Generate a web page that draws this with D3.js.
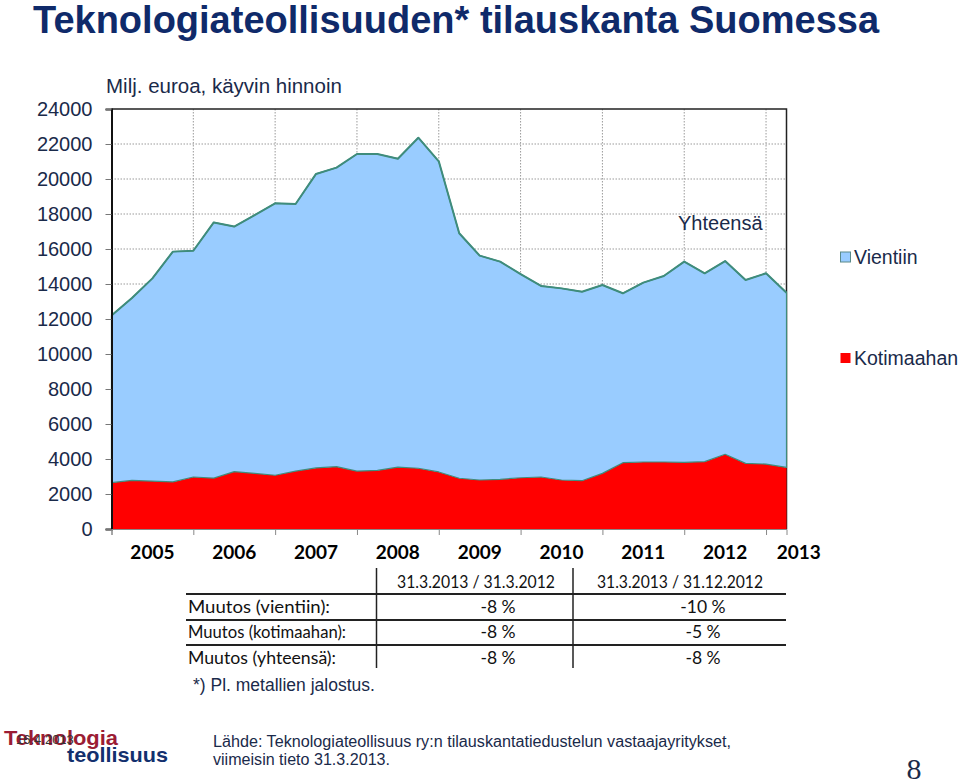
<!DOCTYPE html>
<html>
<head>
<meta charset="utf-8">
<script src="https://cdn.jsdelivr.net/npm/d3@7"></script>
<style>
  html, body { margin: 0; padding: 0; background: #fff; }
  svg { display: block; }
</style>
</head>
<body>
<svg id="chart" width="960" height="783"></svg>
<script>
// ---- data ----
const quarters = ["12/2004",
  "3/2005","6/2005","9/2005","12/2005",
  "3/2006","6/2006","9/2006","12/2006",
  "3/2007","6/2007","9/2007","12/2007",
  "3/2008","6/2008","9/2008","12/2008",
  "3/2009","6/2009","9/2009","12/2009",
  "3/2010","6/2010","9/2010","12/2010",
  "3/2011","6/2011","9/2011","12/2011",
  "3/2012","6/2012","9/2012","12/2012",
  "3/2013"];
const kotimaahan = [2650,2780,2740,2690,2970,2910,3280,3180,3070,3310,3490,3560,3310,3350,3540,3470,3260,
  2900,2800,2840,2930,2970,2800,2760,3180,3790,3830,3830,3810,3850,4270,3750,3710,3520];
const vientiin = [9550,10420,11580,13160,12930,14610,14000,14760,15540,15260,16800,17090,18120,18080,17620,18890,17750,
  14000,12820,12440,11640,10920,10950,10800,10760,9680,10250,10630,11470,10760,11040,10480,10900,9980];
const yearLabels = ["2005","2006","2007","2008","2009","2010","2011","2012","2013"];
const yTicks = [0,2000,4000,6000,8000,10000,12000,14000,16000,18000,20000,22000,24000];
const seriesNames = ["Vientiin","Kotimaahan"];
const tableHeader = ["31.3.2013 / 31.3.2012","31.3.2013 / 31.12.2012"];
const tableRows = ["Muutos (vientiin):","Muutos (kotimaahan):","Muutos (yhteensä):"];
const tableCol1 = ["-8 %","-8 %","-8 %"];
const tableCol2 = ["-10 %","-5 %","-8 %"];

// ---- layout ----
const svg = d3.select("#chart");
const L = 111.5, R = 786.5, T = 109, B = 529;
const navy = "#1a2a4a";
const blueFill = "#99ccff", blueLine = "#3f8c7c", redFill = "#ff0000";

const x = d3.scalePoint().domain(quarters).range([L, R]);
const y = d3.scaleLinear().domain([0, 24000]).range([B, T]);
const step = x.step();

const rows = quarters.map((q, i) => ({q, Kotimaahan: kotimaahan[i], Vientiin: vientiin[i]}));
const stack = d3.stack().keys(["Kotimaahan","Vientiin"]);
const layers = stack(rows);

// title
svg.append("text").attr("x", 33).attr("y", 33)
  .attr("font-family", "Liberation Sans, Arial, sans-serif").attr("font-weight", "bold")
  .attr("font-size", 38).attr("fill", "#0f2a6a")
  .text("Teknologiateollisuuden* tilauskanta Suomessa");

// unit label
svg.append("text").attr("x", 106).attr("y", 93)
  .attr("font-family", "Liberation Sans, Arial, sans-serif").attr("font-size", 20.5).attr("fill", navy)
  .text("Milj. euroa, käyvin hinnoin");

// gridlines
const grid = svg.append("g");
grid.selectAll("line.h").data(yTicks.filter(v => v > 0 && v < 24000)).join("line")
  .attr("x1", L).attr("x2", R).attr("y1", d => y(d)).attr("y2", d => y(d))
  .attr("stroke", "#9a9a9a").attr("stroke-width", 1).attr("stroke-dasharray", "1.5,1.5");
const yearTicks = quarters.filter((q, i) => i % 4 === 0);
grid.selectAll("line.v").data(yearTicks.slice(1)).join("line")
  .attr("x1", d => x(d)).attr("x2", d => x(d)).attr("y1", T).attr("y2", B)
  .attr("stroke", "#9a9a9a").attr("stroke-width", 1).attr("stroke-dasharray", "1.5,1.5");

// frame top/right
svg.append("path").attr("d", `M${L},${T}H${R}V${B}`).attr("fill", "none")
  .attr("stroke", "#222").attr("stroke-width", 1.5);

// areas
const area = d3.area().x(d => x(d.data.q)).y0(d => y(d[0])).y1(d => y(d[1]));
svg.append("path").datum(layers[0]).attr("d", area).attr("fill", redFill);
svg.append("path").datum(layers[1]).attr("d", area).attr("fill", blueFill)
  .attr("stroke", blueLine).attr("stroke-width", 1.2).attr("stroke-linejoin", "round");
const topLine = d3.line().x(d => x(d.data.q)).y(d => y(d[1]));
svg.append("path").datum(layers[1]).attr("d", topLine).attr("fill", "none")
  .attr("stroke", blueLine).attr("stroke-width", 2).attr("stroke-linejoin", "round");

// y axis
const yAxis = svg.append("g").attr("transform", `translate(${L},0)`)
  .call(d3.axisLeft(y).tickValues(yTicks).tickFormat(d3.format("d")).tickSize(6).tickPadding(13));
yAxis.select(".domain").attr("stroke", "#111").attr("stroke-width", 2);
yAxis.selectAll(".tick line").attr("stroke", "#777");
yAxis.selectAll(".tick text").attr("font-family", "Liberation Sans, Arial, sans-serif")
  .attr("font-size", 20).attr("fill", navy);

// x axis
const xAxis = svg.append("g").attr("transform", `translate(0,${B})`)
  .call(d3.axisBottom(x).tickValues(yearTicks).tickSize(6).tickFormat(""));
xAxis.select(".domain").attr("stroke", "#888").attr("stroke-width", 1);
xAxis.selectAll(".tick line").attr("stroke", "#888");
const labelX = (i) => i < yearLabels.length - 1
  ? x(yearTicks[i]) + step * 2
  : x(yearTicks[i]) + step * 1.6;
svg.append("g").selectAll("text").data(yearLabels).join("text")
  .attr("x", (d, i) => labelX(i)).attr("y", 559).attr("text-anchor", "middle")
  .attr("font-family", "Lato, sans-serif").attr("font-weight", "bold").attr("font-size", 19)
  .attr("fill", "#000").text(d => d);

// Yhteensä label
svg.append("text").attr("x", 678).attr("y", 230)
  .attr("font-family", "Liberation Sans, Arial, sans-serif").attr("font-size", 20).attr("fill", navy)
  .text("Yhteensä");

// legend
const legend = svg.append("g");
const legY = [257, 358];
const legCol = [blueFill, redFill];
legend.selectAll("rect").data(seriesNames).join("rect")
  .attr("x", 840.5).attr("y", (d, i) => legY[i] - 5).attr("width", 10).attr("height", 10)
  .attr("fill", (d, i) => legCol[i]).attr("stroke", (d, i) => i === 0 ? "#5a8a8a" : "none");
legend.selectAll("text").data(seriesNames).join("text")
  .attr("x", 854).attr("y", (d, i) => legY[i] + 7)
  .attr("font-family", "Liberation Sans, Arial, sans-serif").attr("font-size", 19.5).attr("fill", navy)
  .text(d => d);

// table
const tf = "Lato, sans-serif";
const tbl = svg.append("g").attr("font-family", tf).attr("font-size", 17.5).attr("fill", "#111");
const hdrX = [397, 597];
const hdrW = [158, 166];
tbl.selectAll("text.h").data(tableHeader).join("text").attr("class", "h")
  .attr("x", (d, i) => hdrX[i]).attr("y", 588)
  .attr("textLength", (d, i) => hdrW[i]).attr("lengthAdjust", "spacingAndGlyphs").text(d => d);
const rowY = [613, 638, 664];
const rowW = [142, 158, 148];
tbl.selectAll("text.r").data(tableRows).join("text").attr("class", "r")
  .attr("x", 188).attr("y", (d, i) => rowY[i])
  .attr("textLength", (d, i) => rowW[i]).attr("lengthAdjust", "spacingAndGlyphs").text(d => d);
tbl.selectAll("text.c1").data(tableCol1).join("text").attr("class", "c1")
  .attr("x", 498).attr("y", (d, i) => rowY[i]).attr("text-anchor", "middle").text(d => d);
tbl.selectAll("text.c2").data(tableCol2).join("text").attr("class", "c2")
  .attr("x", 703).attr("y", (d, i) => rowY[i]).attr("text-anchor", "middle").text(d => d);
tbl.selectAll("line.hl").data([594, 620, 645]).join("line")
  .attr("x1", 186).attr("x2", 786).attr("y1", d => d).attr("y2", d => d)
  .attr("stroke", "#222").attr("stroke-width", 1.8);
tbl.selectAll("line.vl").data([376.5, 573]).join("line")
  .attr("x1", d => d).attr("x2", d => d).attr("y1", 568).attr("y2", 668)
  .attr("stroke", "#222").attr("stroke-width", 1.5);

// footnote
svg.append("text").attr("x", 193).attr("y", 691)
  .attr("font-family", "Liberation Sans, Arial, sans-serif").attr("font-size", 17.5).attr("fill", navy)
  .text("*) Pl. metallien jalostus.");

// logo
svg.append("text").attr("x", 4).attr("y", 745)
  .attr("font-family", "Liberation Sans, Arial, sans-serif").attr("font-weight", "bold")
  .attr("font-size", 21).attr("fill", "#9b1c34").attr("textLength", 114).attr("lengthAdjust", "spacingAndGlyphs")
  .text("Teknologia");
svg.append("text").attr("x", 16).attr("y", 744)
  .attr("font-family", "Liberation Sans, Arial, sans-serif").attr("font-size", 13).attr("fill", "#333")
  .text("16.4.2013");
svg.append("text").attr("x", 67).attr("y", 762)
  .attr("font-family", "Liberation Sans, Arial, sans-serif").attr("font-weight", "bold")
  .attr("font-size", 21).attr("fill", "#13306e").attr("textLength", 101).attr("lengthAdjust", "spacingAndGlyphs")
  .text("teollisuus");

// source
svg.append("text").attr("x", 213).attr("y", 747)
  .attr("font-family", "Liberation Sans, Arial, sans-serif").attr("font-size", 16).attr("fill", navy)
  .attr("textLength", 518).attr("lengthAdjust", "spacingAndGlyphs")
  .text("Lähde: Teknologiateollisuus ry:n tilauskantatiedustelun vastaajayritykset,");
svg.append("text").attr("x", 213).attr("y", 765)
  .attr("font-family", "Liberation Sans, Arial, sans-serif").attr("font-size", 16).attr("fill", navy)
  .attr("textLength", 177).attr("lengthAdjust", "spacingAndGlyphs")
  .text("viimeisin tieto 31.3.2013.");

// page number
svg.append("text").attr("x", 914).attr("y", 779).attr("text-anchor", "middle")
  .attr("font-family", "Liberation Serif, serif").attr("font-size", 30).attr("fill", navy)
  .text("8");
</script>
</body>
</html>
